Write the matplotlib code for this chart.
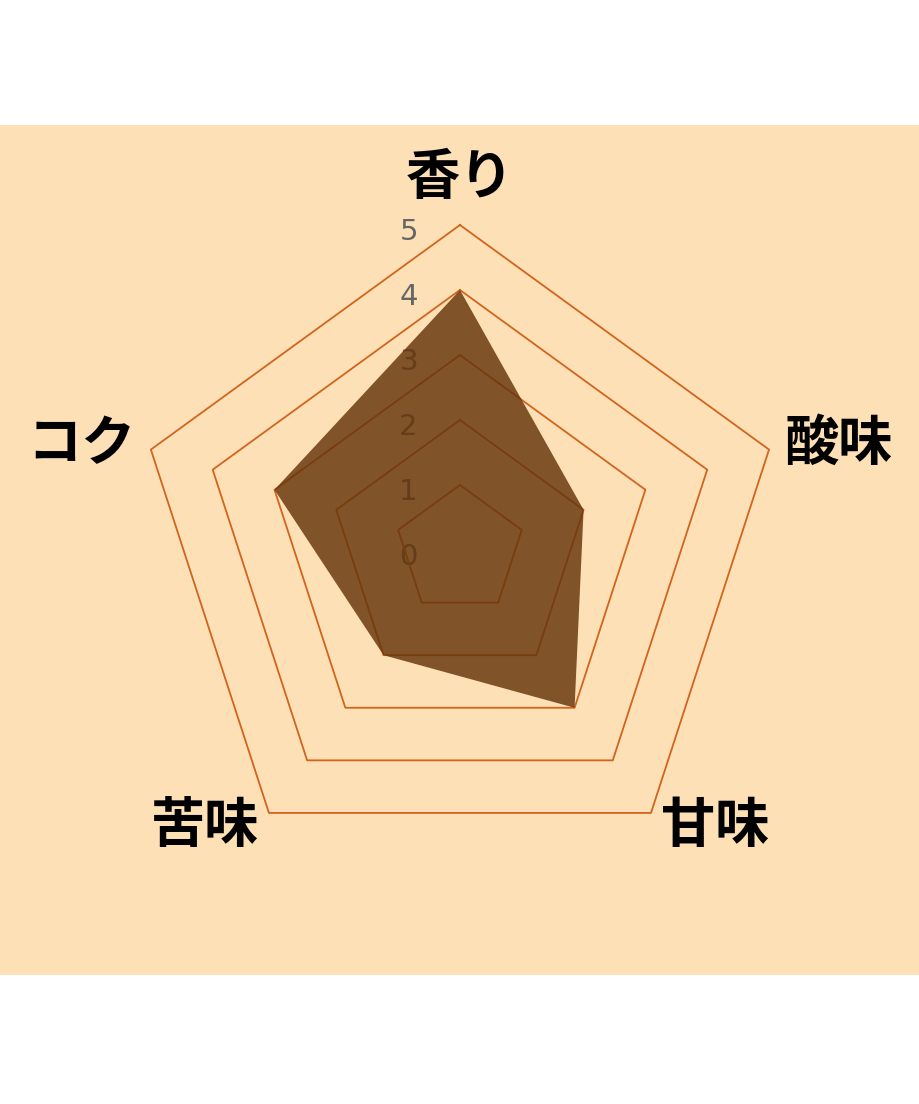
import numpy as np
import matplotlib
matplotlib.use("Agg")
import matplotlib.pyplot as plt
from matplotlib.patches import Rectangle

plt.rcParams['font.family'] = ['Noto Sans CJK JP', 'DejaVu Sans']

labels = ["香り", "酸味", "甘味", "苦味", "コク"]
values = [4, 2, 3, 2, 3]
levels = [1, 2, 3, 4, 5]
tick_labels = ["0", "1", "2", "3", "4", "5"]

bg = "#fde0b6"
grid_col = "#d2641e"

fig = plt.figure(figsize=(9.2, 11.04), dpi=100)
fig.patch.set_facecolor("white")

# peach band behind the chart
bgax = fig.add_axes([0, 129 / 1104, 1, 850 / 1104], zorder=-5)
bgax.set_facecolor(bg)
bgax.axis("off")
bgax.add_patch(Rectangle((0, 0), 1, 1, transform=bgax.transAxes, facecolor=bg, edgecolor="none"))

ax = fig.add_axes([0.1467, 0.2074, 0.7065, 0.5888], projection="polar", zorder=1)
ax.set_facecolor("none")
ax.set_theta_zero_location("N")
ax.set_theta_direction(-1)
ax.set_ylim(0, 5)
ax.set_xticks([])
ax.set_yticks([])
ax.grid(False)
ax.spines["polar"].set_visible(False)

n = len(labels)
angles = np.arange(n) * 2 * np.pi / n
closed = np.append(angles, angles[0])

# tick labels under the fill
for i, t in enumerate(tick_labels):
    ax.annotate(t, xy=(0, i), xytext=(-37, -5), textcoords="offset points",
                ha="center", va="center", fontsize=21, color="#666666",
                family=["DejaVu Sans"], zorder=1)

# pentagon grid
for lv in levels:
    ax.plot(closed, [lv] * (n + 1), color=grid_col, lw=1.3, zorder=2, clip_on=False)

vals = values + values[:1]
ax.fill(closed, vals, color="#64340a", alpha=0.82, lw=0, zorder=3)

# axis labels
fs = 39
ax.text(0, 5.3, labels[0], ha="center", va="bottom", fontsize=fs, fontweight="bold")
ax.text(angles[1], 5.25, labels[1], ha="left", va="center", fontsize=fs, fontweight="bold")
ax.text(angles[2], 5.25, labels[2], ha="left", va="center", fontsize=fs, fontweight="bold")
ax.text(angles[3], 5.25, labels[3], ha="right", va="center", fontsize=fs, fontweight="bold")
ax.text(angles[4], 5.25, labels[4], ha="right", va="center", fontsize=fs, fontweight="bold")

fig.savefig("out.png", dpi=100, facecolor="white")
